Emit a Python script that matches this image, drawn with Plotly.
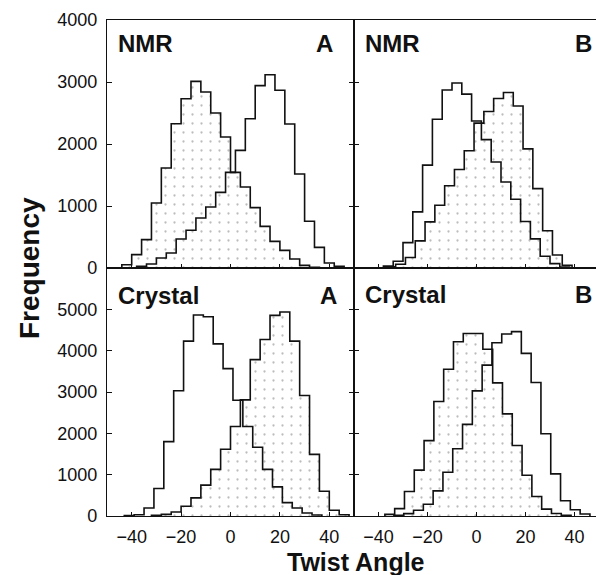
import plotly.graph_objects as go

# ---------------- data ----------------
bin_width = 4
twist_ticks = [-40, -20, 0, 20, 40]
nmr_ticks = [0, 1000, 2000, 3000, 4000]
crystal_ticks = [0, 1000, 2000, 3000, 4000, 5000]

# NMR, A
nmr_a_dotted_x = [-42, -38, -34, -30, -26, -22, -18, -14, -10, -6, -2, 2, 6, 10, 14, 18, 22, 26, 30, 34]
nmr_a_dotted_y = [53, 215, 457, 1048, 1613, 2327, 2731, 3010, 2839, 2500, 2113, 1542, 1306, 973, 671, 429, 284, 145, 42, 10]
nmr_a_open_x = [-36, -32, -28, -24, -20, -16, -12, -8, -4, 0, 4, 8, 12, 16, 20, 24, 28, 32, 36, 40, 44]
nmr_a_open_y = [27, 65, 161, 242, 468, 608, 806, 984, 1219, 1542, 1897, 2408, 2941, 3118, 2866, 2323, 1516, 753, 333, 81, 27]

# NMR, B
nmr_b_open_x = [-36, -32, -28, -24, -20, -16, -12, -8, -4, 0, 4, 8, 12, 16, 20, 24, 28, 32, 36]
nmr_b_open_y = [30, 108, 410, 906, 1660, 2399, 2870, 2985, 2805, 2370, 2071, 1710, 1387, 1110, 750, 470, 189, 71, 16]
nmr_b_dotted_x = [-35, -31, -27, -23, -19, -15, -11, -7, -3, 1, 5, 9, 13, 17, 21, 25, 29, 33, 37]
nmr_b_dotted_y = [20, 60, 170, 437, 744, 1012, 1327, 1588, 1890, 2337, 2525, 2735, 2830, 2613, 1922, 1280, 600, 210, 44]

# Crystal, A
crystal_a_open_x = [-41, -37, -33, -29, -25, -21, -17, -13, -9, -5, -1, 3, 7, 11, 15, 19, 23, 27, 31, 35]
crystal_a_open_y = [10, 32, 194, 665, 1799, 3031, 4230, 4862, 4822, 4165, 3566, 2800, 2164, 1663, 1128, 705, 324, 195, 73, 24]
crystal_a_dotted_x = [-30, -26, -22, -18, -14, -10, -6, -2, 2, 6, 10, 14, 18, 22, 26, 30, 34, 38, 42, 46]
crystal_a_dotted_y = [16, 40, 97, 235, 438, 746, 1128, 1614, 2164, 2810, 3784, 4271, 4854, 4935, 4230, 2917, 1491, 600, 138, 32]

# Crystal, B
crystal_b_dotted_x = [-35.4, -31.4, -27.4, -23.4, -19.4, -15.4, -11.4, -7.4, -3.4, 0.6, 4.6, 8.6, 12.6, 16.6, 20.6, 24.6, 28.6, 32.6, 36.6]
crystal_b_dotted_y = [40, 178, 592, 1110, 1823, 2771, 3549, 4214, 4417, 4417, 4033, 3221, 2470, 1706, 985, 470, 167, 62, 15]
crystal_b_open_x = [-31.7, -27.7, -23.7, -19.7, -15.7, -11.7, -7.7, -3.7, 0.3, 4.3, 8.3, 12.3, 16.3, 20.3, 24.3, 28.3, 32.3, 36.3, 40.3, 44.3]
crystal_b_open_y = [16, 57, 138, 284, 608, 1057, 1627, 2217, 3027, 3651, 4193, 4404, 4460, 3935, 3230, 1990, 1018, 370, 150, 50]

panel_titles = ["NMR", "NMR", "Crystal", "Crystal"]
panel_letters = ["A", "B", "A", "B"]
x_title = "Twist Angle"
y_title = "Frequency"

# ---------------- layout geometry (pixels) ----------------
W, H = 596, 575
ML, MR, MT, MB = 107, 0, 20, 59
PW, PH = W - ML - MR, H - MT - MB
split = 247 / PW
right_max = -50 + PW * (1 - split) / 2.45

def px_x(p):
    return (p - ML) / PW

def px_y(p):
    return (H - MB - p) / PH

LINE = "#111111"
TICKFONT = dict(family="Liberation Sans", size=18, color="#111111")
BOLD = "Liberation Sans"


def step_path(centers, counts):
    half = bin_width / 2
    edges = [c - half for c in centers] + [centers[-1] + half]
    xs = [edges[0]] + edges
    ys = [0] + list(counts) + [0]
    return xs, ys


fig = go.Figure()

panels = [
    ("x", "y", (nmr_a_dotted_x, nmr_a_dotted_y), (nmr_a_open_x, nmr_a_open_y)),
    ("x2", "y2", (nmr_b_dotted_x, nmr_b_dotted_y), (nmr_b_open_x, nmr_b_open_y)),
    ("x3", "y3", (crystal_a_dotted_x, crystal_a_dotted_y), (crystal_a_open_x, crystal_a_open_y)),
    ("x4", "y4", (crystal_b_dotted_x, crystal_b_dotted_y), (crystal_b_open_x, crystal_b_open_y)),
]

for xa, ya, dotted, opened in panels:
    dx, dy = step_path(*dotted)
    ox, oy = step_path(*opened)
    # stippled fill of the shaded histogram
    fig.add_trace(go.Scatter(
        x=dx, y=dy, xaxis=xa, yaxis=ya, mode="lines", line_shape="hv",
        line=dict(width=0, color="rgba(0,0,0,0)"), fill="tozeroy",
        fillcolor="white",
        fillpattern=dict(shape=".", size=9, solidity=0.05, fgcolor="#7a7a7a", bgcolor="white"),
        hoverinfo="skip", showlegend=False))
    # outlines
    fig.add_trace(go.Scatter(
        x=dx, y=dy, xaxis=xa, yaxis=ya, mode="lines", line_shape="hv",
        line=dict(width=1.6, color=LINE), hoverinfo="skip", showlegend=False))
    fig.add_trace(go.Scatter(
        x=ox, y=oy, xaxis=xa, yaxis=ya, mode="lines", line_shape="hv",
        line=dict(width=1.6, color=LINE), hoverinfo="skip", showlegend=False))

common_x = dict(showgrid=False, zeroline=False, showline=True, linecolor=LINE, linewidth=1.4,
                ticks="inside", ticklen=4, tickcolor=LINE, tickwidth=1.2,
                tickvals=twist_ticks, tickfont=TICKFONT, ticklabelstandoff=4)
common_y = dict(showgrid=False, zeroline=False, showline=True, linecolor=LINE, linewidth=1.4,
                ticks="inside", ticklen=5, tickcolor=LINE, tickwidth=1.2, tickfont=TICKFONT,
                ticklabelstandoff=5)

fig.update_layout(
    width=W, height=H, margin=dict(l=ML, r=MR, t=MT, b=MB, pad=0),
    paper_bgcolor="white", plot_bgcolor="white", showlegend=False,
    xaxis=dict(common_x, domain=[0, split], range=[-50, 50], anchor="y", showticklabels=False, mirror=True),
    xaxis2=dict(common_x, domain=[split, 1], range=[-50, right_max], anchor="y2", showticklabels=False, mirror=True),
    xaxis3=dict(common_x, domain=[0, split], range=[-50, 50], anchor="y3", mirror=True),
    xaxis4=dict(common_x, domain=[split, 1], range=[-50, right_max], anchor="y4", mirror=True),
    yaxis=dict(common_y, domain=[0.5, 1], range=[0, 4000], tickvals=nmr_ticks, anchor="x", mirror="ticks"),
    yaxis2=dict(common_y, domain=[0.5, 1], range=[0, 4000], tickvals=nmr_ticks, anchor="x2", showticklabels=False),
    yaxis3=dict(common_y, domain=[0, 0.5], range=[0, 6000], tickvals=crystal_ticks, anchor="x3", mirror="ticks"),
    yaxis4=dict(common_y, domain=[0, 0.5], range=[0, 6000], tickvals=crystal_ticks, anchor="x4", showticklabels=False),
)

ann = []
label_font = dict(family=BOLD, size=24, color="#111111", weight="bold")
title_pos = [(116, 43.5), (363, 43.5), (116, 295), (363, 294)]
letter_pos = [(335, 43.5), (594, 43.5), (339, 295.5), (594, 294)]
for (t, l, (tx, ty), (lx, ly)) in zip(panel_titles, panel_letters, title_pos, letter_pos):
    ann.append(dict(text=t, xref="paper", yref="paper", x=px_x(tx), y=px_y(ty),
                    xanchor="left", yanchor="middle", showarrow=False, font=label_font))
    ann.append(dict(text=l, xref="paper", yref="paper", x=px_x(lx), y=px_y(ly),
                    xanchor="right", yanchor="middle", showarrow=False, font=label_font))

ann.append(dict(text=x_title, xref="paper", yref="paper", x=px_x(356), y=px_y(561.5),
                xanchor="center", yanchor="middle", showarrow=False,
                font=dict(family=BOLD, size=25, color="#111111", weight="bold")))
ann.append(dict(text=y_title, xref="paper", yref="paper", x=px_x(29), y=px_y(268),
                xanchor="center", yanchor="middle", showarrow=False, textangle=-90,
                font=dict(family=BOLD, size=28, color="#111111", weight="bold")))
fig.update_layout(annotations=ann)

fig.write_html("out.html")
